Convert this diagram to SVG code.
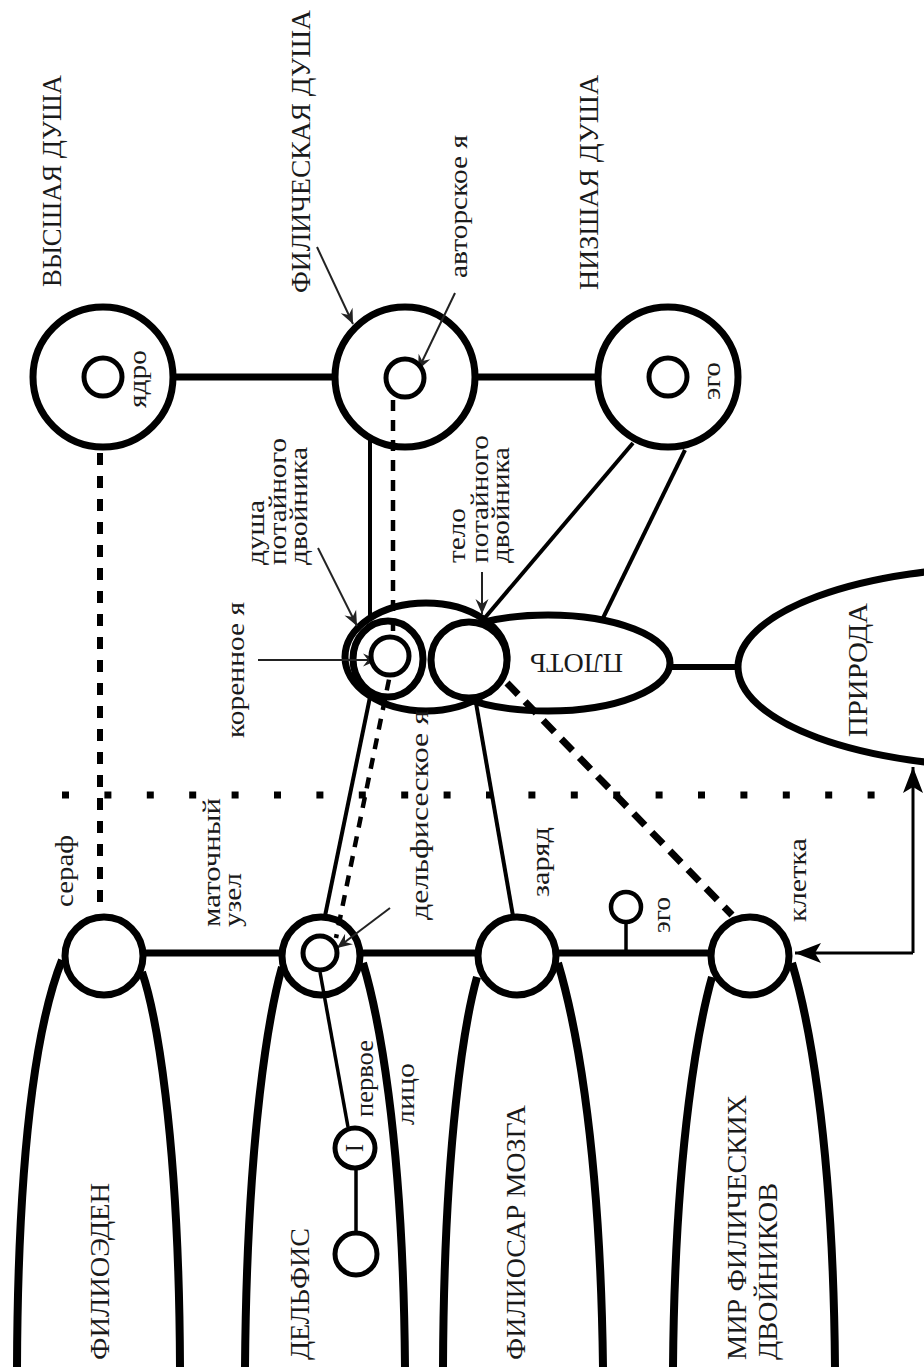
<svg xmlns="http://www.w3.org/2000/svg" width="924" height="1367" viewBox="0 0 924 1367">
<style>
.n{fill:#fff;stroke:#000;stroke-width:7}
.s{fill:#fff;stroke:#000;stroke-width:5}
.t{font-family:"Liberation Serif","Times New Roman",serif;fill:#1a1a1a}
.c{font-size:27px}
.l{font-size:25px}
.thick{stroke:#000;stroke-width:7;fill:none}
.thin{stroke:#000;stroke-width:4;fill:none}
.ar{stroke:#222;stroke-width:2;fill:none;marker-end:url(#ah)}
.big{stroke:#000;stroke-width:3;fill:none;marker-end:url(#ahb)}
.lobe{stroke:#000;stroke-width:8;fill:none}
</style>
<defs>
<marker id="ah" markerUnits="userSpaceOnUse" markerWidth="20" markerHeight="16" viewBox="-16 -8 18 16" refX="0" refY="0" orient="auto">
<path d="M0,0 L-15,-6.5 L-10,0 L-15,6.5 Z" fill="#222"/>
</marker>
<marker id="ahb" markerUnits="userSpaceOnUse" markerWidth="32" markerHeight="24" viewBox="-28 -12 30 24" refX="0" refY="0" orient="auto">
<path d="M0,0 L-26,-10 L-20,0 L-26,10 Z" fill="#000"/>
</marker>
</defs>
<rect width="924" height="1367" fill="#fff"/>

<!-- lobes (bottom realms) -->
<g id="lobe-filioeden">
<path class="lobe" d="M62,960 C42,1010 18,1120 17,1367"/>
<path class="lobe" d="M142,972 C155,1010 179,1130 180,1367"/>
</g>
<g id="lobe-delfis">
<path class="lobe" d="M282,967 C270,1010 247,1130 245,1367"/>
<path class="lobe" d="M363,963 C377,1010 403,1130 405,1367"/>
</g>
<g id="lobe-filiosar">
<path class="lobe" d="M477,977 C465,1020 444,1140 443,1367"/>
<path class="lobe" d="M558,963 C572,1010 600,1130 603,1367"/>
</g>
<g id="lobe-mir">
<path class="lobe" d="M712,977 C700,1020 675,1140 673,1367"/>
<path class="lobe" d="M792,963 C806,1010 833,1130 835,1367"/>
</g>

<g id="connectors-back">
<line class="thick" x1="175" y1="377" x2="335" y2="377"/>
<line class="thick" x1="477" y1="377" x2="597" y2="377"/>
<line class="thick" x1="143" y1="953" x2="712" y2="953"/>
<line class="thin" x1="670" y1="667" x2="740" y2="667" style="stroke-width:6"/>
</g>

<!-- nature -->
<g id="priroda">
<ellipse class="n" cx="1010" cy="667" rx="272" ry="100"/>
<text class="t c" transform="translate(867,737) rotate(-90)" textLength="134" lengthAdjust="spacingAndGlyphs">ПРИРОДА</text>
</g>

<!-- central cluster -->
<g id="plot">
<ellipse class="n" cx="548" cy="663" rx="122" ry="48"/>
</g>
<g id="root-outer">
<ellipse class="n" cx="426" cy="657" rx="81" ry="54"/>
</g>
<g id="dusha-dvoynika">
<ellipse class="n" cx="388" cy="659" rx="35" ry="38" style="fill:none"/>
</g>
<g id="telo-dvoynika">
<circle class="n" cx="469" cy="660" r="38"/>
</g>

<!-- top souls -->
<g id="vysshaya">
<circle class="n" cx="103" cy="377" r="70"/>
<circle class="s" cx="103" cy="377" r="19"/>
<text class="t l" transform="translate(146,408) rotate(-90)" textLength="58" lengthAdjust="spacingAndGlyphs">ядро</text>
<text class="t c" transform="translate(61,287) rotate(-90)" textLength="212" lengthAdjust="spacingAndGlyphs">ВЫСШАЯ ДУША</text>
</g>
<g id="filicheskaya">
<circle class="n" cx="405" cy="377" r="70"/>
<text class="t c" transform="translate(310,293) rotate(-90)" textLength="283" lengthAdjust="spacingAndGlyphs">ФИЛИЧЕСКАЯ ДУША</text>
</g>
<g id="nizshaya">
<circle class="n" cx="668" cy="377" r="70"/>
<circle class="s" cx="668" cy="377" r="19"/>
<text class="t l" transform="translate(720,400) rotate(-90)" textLength="38" lengthAdjust="spacingAndGlyphs">эго</text>
<text class="t c" transform="translate(598,290) rotate(-90)" textLength="215" lengthAdjust="spacingAndGlyphs">НИЗШАЯ ДУША</text>
</g>

<!-- bottom nodes -->
<g id="seraf">
<circle class="n" cx="104" cy="956" r="39"/>
<text class="t l" transform="translate(73,907) rotate(-90)" textLength="72" lengthAdjust="spacingAndGlyphs">сераф</text>
<text class="t c" transform="translate(109,1360) rotate(-90)" textLength="177" lengthAdjust="spacingAndGlyphs">ФИЛИОЭДЕН</text>
</g>
<g id="matochny-uzel">
<circle class="n" cx="321" cy="956" r="39"/>
<text class="t l" transform="translate(220,927) rotate(-90)" textLength="129" lengthAdjust="spacingAndGlyphs">маточный</text>
<text class="t l" transform="translate(241,927) rotate(-90)" textLength="54" lengthAdjust="spacingAndGlyphs">узел</text>
<text class="t c" transform="translate(309,1360) rotate(-90)" textLength="132" lengthAdjust="spacingAndGlyphs">ДЕЛЬФИС</text>
</g>
<g id="zaryad">
<circle class="n" cx="517" cy="956" r="39"/>
<text class="t l" transform="translate(549,897) rotate(-90)" textLength="70" lengthAdjust="spacingAndGlyphs">заряд</text>
<text class="t c" transform="translate(525,1360) rotate(-90)" textLength="255" lengthAdjust="spacingAndGlyphs">ФИЛИОСАР МОЗГА</text>
</g>
<g id="kletka">
<circle class="n" cx="750" cy="956" r="39"/>
<text class="t l" transform="translate(806,922) rotate(-90)" textLength="84" lengthAdjust="spacingAndGlyphs">клетка</text>
<text class="t c" transform="translate(746,1360) rotate(-90)" textLength="265" lengthAdjust="spacingAndGlyphs">МИР ФИЛИЧЕСКИХ</text>
<text class="t c" transform="translate(777,1360) rotate(-90)" textLength="177" lengthAdjust="spacingAndGlyphs">ДВОЙНИКОВ</text>
</g>

<!-- connectors -->
<g id="connectors">
<line x1="100" y1="453" x2="100" y2="913" style="stroke:#000;stroke-width:6;stroke-dasharray:12 11"/>
<line x1="62" y1="795" x2="877" y2="795" style="stroke:#000;stroke-width:7;stroke-dasharray:7 35.4"/>
<polyline points="393,400 393,660 336,938" style="fill:none;stroke:#000;stroke-width:4.5;stroke-dasharray:11 9"/>
<line class="thin" x1="370" y1="440" x2="370" y2="616"/>
<line class="thin" x1="633" y1="443" x2="483" y2="620"/>
<line class="thin" x1="685" y1="450" x2="603" y2="618"/>
<line class="thin" x1="370" y1="697" x2="325" y2="916"/>
<line class="thin" x1="476" y1="703" x2="513" y2="916"/>
<line x1="507" y1="683" x2="732" y2="915" style="stroke:#000;stroke-width:7;stroke-dasharray:16 10"/>
<line class="thin" x1="320" y1="972" x2="348" y2="1127" style="stroke-width:3.5"/>
<line class="thin" x1="356" y1="1170" x2="356" y2="1232" style="stroke-width:3.5"/>
<line class="thin" x1="626" y1="923" x2="626" y2="953" style="stroke-width:3.5"/>
<path class="big" d="M913,953 L913,767"/>
<path class="big" d="M913,953 L795,953"/>
<line class="ar" x1="317" y1="247" x2="353" y2="324"/>
<line class="ar" x1="455" y1="293" x2="418" y2="370"/>
<line class="ar" x1="318" y1="548" x2="357" y2="626"/>
<line class="ar" x1="482" y1="572" x2="482" y2="614"/>
<line class="ar" x1="258" y1="660" x2="378" y2="660"/>
<line class="ar" x1="390" y1="908" x2="337" y2="948"/>
</g>

<!-- small nodes on top of connectors -->
<g id="avtorskoe-ya">
<circle class="s" cx="405" cy="378" r="19"/>
<text class="t l" transform="translate(467,278) rotate(-90)" textLength="143" lengthAdjust="spacingAndGlyphs">авторское я</text>
</g>
<g id="korennoe-ya">
<circle class="s" cx="390" cy="656" r="19"/>
<text class="t l" transform="translate(244,738) rotate(-90)" textLength="136" lengthAdjust="spacingAndGlyphs">коренное я</text>
</g>
<g id="dusha-label">
<text class="t l" transform="translate(264,565) rotate(-90)" textLength="65" lengthAdjust="spacingAndGlyphs">душа</text>
<text class="t l" transform="translate(286,565) rotate(-90)" textLength="127" lengthAdjust="spacingAndGlyphs">потайного</text>
<text class="t l" transform="translate(307,565) rotate(-90)" textLength="118" lengthAdjust="spacingAndGlyphs">двойника</text>
</g>
<g id="telo-label">
<text class="t l" transform="translate(465,563) rotate(-90)" textLength="55" lengthAdjust="spacingAndGlyphs">тело</text>
<text class="t l" transform="translate(488,563) rotate(-90)" textLength="128" lengthAdjust="spacingAndGlyphs">потайного</text>
<text class="t l" transform="translate(509,563) rotate(-90)" textLength="116" lengthAdjust="spacingAndGlyphs">двойника</text>
</g>
<g id="plot-label">
<text class="t c" transform="translate(623,654) rotate(180)" textLength="93" lengthAdjust="spacingAndGlyphs">ПЛОТЬ</text>
</g>
<g id="delfiskoe-ya">
<circle class="s" cx="320" cy="953" r="17"/>
<text class="t l" transform="translate(428,920) rotate(-90)" textLength="210" lengthAdjust="spacingAndGlyphs">дельфисеское я</text>
</g>
<g id="ego-small">
<circle class="s" cx="626" cy="907" r="15" style="stroke-width:4.5"/>
<text class="t l" transform="translate(670,933) rotate(-90)" textLength="36" lengthAdjust="spacingAndGlyphs">эго</text>
</g>
<g id="pervoe-litso">
<circle class="s" cx="355" cy="1148" r="20"/>
<text class="t l" transform="translate(363,1148) rotate(-90)" text-anchor="middle">I</text>
<text class="t l" transform="translate(373,1117) rotate(-90)" textLength="77" lengthAdjust="spacingAndGlyphs">первое</text>
<text class="t l" transform="translate(414,1125) rotate(-90)" textLength="62" lengthAdjust="spacingAndGlyphs">лицо</text>
</g>
<g id="delfis-lower">
<circle class="s" cx="356" cy="1254" r="21"/>
</g>
</svg>
